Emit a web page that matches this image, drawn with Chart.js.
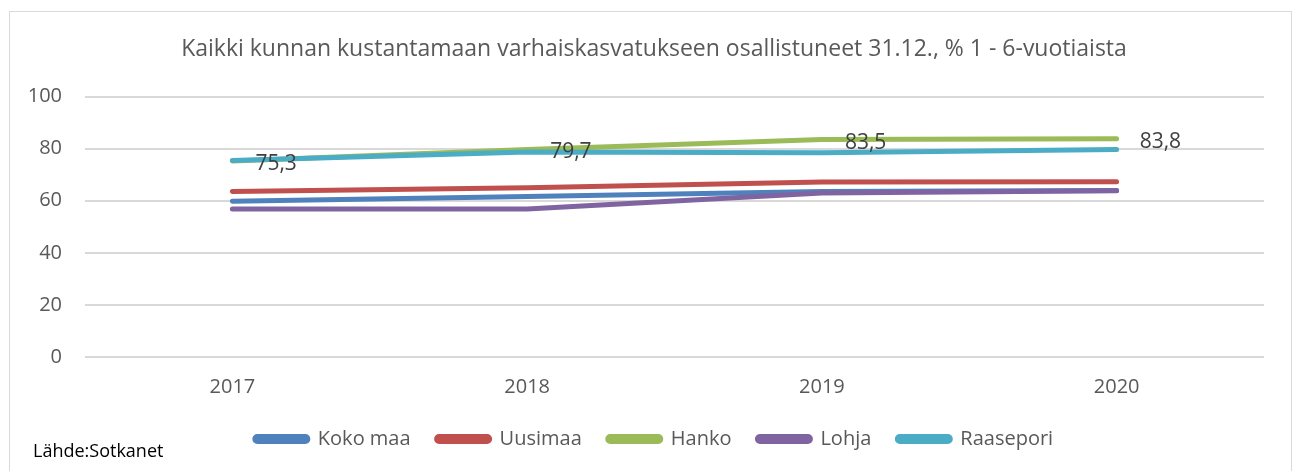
<!DOCTYPE html>
<html>
<head>
<meta charset="utf-8">
<script src="https://cdn.jsdelivr.net/npm/chart.js@4.4.0/dist/chart.umd.min.js"></script>
<style>
  html, body { margin: 0; padding: 0; background: #fff; }
  #wrap { position: absolute; left: 0; top: 0; width: 1293px; height: 471px; }
  #frame { position: absolute; left: 9px; top: 11px; width: 1283px; height: 470px; border: 1px solid #d9d9d9; box-sizing: border-box; }
  canvas { position: absolute; left: 0; top: 0; }
</style>
</head>
<body>
<div id="wrap">
  <div id="frame"></div>
  <canvas id="c" width="1293" height="471"></canvas>
</div>
<script>
const categories = ['2017', '2018', '2019', '2020'];
const seriesNames = ['Koko maa', 'Uusimaa', 'Hanko', 'Lohja', 'Raasepori'];
const kokoMaa   = [59.8, 61.6, 63.6, 63.9];
const uusimaa   = [63.6, 65.0, 67.2, 67.3];
const hanko     = [75.3, 79.7, 83.5, 83.8];
const lohja     = [56.8, 56.8, 63.0, 63.8];
const raasepori = [75.5, 78.7, 78.4, 79.7];
const yTicks = [0, 20, 40, 60, 80, 100];
const titleText = 'Kaikki kunnan kustantamaan varhaiskasvatukseen osallistuneet 31.12., % 1 - 6-vuotiaista';
const sourceText = 'Lähde:Sotkanet';
const labelledSeries = 'Hanko';

const colors = ['#4F81BD', '#C0504D', '#9BBB59', '#8064A2', '#4BACC6'];
const values = [kokoMaa, uusimaa, hanko, lohja, raasepori];
const FONT = '"Open Sans", Lato, sans-serif';

const datasets = seriesNames.map((n, i) => ({
  label: n,
  data: values[i],
  borderColor: colors[i],
  backgroundColor: colors[i],
  borderWidth: 5,
  borderCapStyle: 'round',
  borderJoinStyle: 'round',
  pointRadius: 0,
  pointHoverRadius: 0,
  tension: 0,
  fill: false,
  order: seriesNames.length - i,
  yAxisID: 'y'
}));

const valueLabels = {
  id: 'valueLabels',
  afterDatasetsDraw(chart) {
    const ctx = chart.ctx;
    const idx = seriesNames.indexOf(labelledSeries);
    const meta = chart.getDatasetMeta(idx);
    ctx.save();
    ctx.font = '21px ' + FONT;
    ctx.fillStyle = '#404040';
    ctx.textAlign = 'left';
    ctx.textBaseline = 'middle';
    meta.data.forEach((pt, j) => {
      const v = chart.data.datasets[idx].data[j];
      ctx.fillText(v.toFixed(1).replace('.', ','), pt.x + 23, pt.y + 3);
    });
    ctx.restore();
  }
};

const sourceNote = {
  id: 'sourceNote',
  afterDraw(chart) {
    const ctx = chart.ctx;
    ctx.save();
    ctx.font = '18px ' + FONT;
    ctx.fillStyle = '#000000';
    ctx.textAlign = 'left';
    ctx.textBaseline = 'middle';
    ctx.fillText(sourceText, 33, 452);
    ctx.restore();
  }
};

new Chart(document.getElementById('c'), {
  type: 'line',
  data: { labels: categories, datasets },
  plugins: [valueLabels, sourceNote],
  options: {
    responsive: false,
    animation: false,
    events: [],
    layout: { padding: { left: 20, right: 5, top: 0, bottom: 12 } },
    plugins: {
      tooltip: { enabled: false },
      title: {
        display: true,
        text: titleText,
        color: '#595959',
        font: { family: FONT, size: 23, weight: 'normal' },
        padding: { top: 36, bottom: 33 }
      },
      legend: {
        display: true,
        position: 'bottom',
        labels: {
          boxWidth: 53,
          boxHeight: 5,
          useBorderRadius: true,
          borderRadius: 2.5,
          color: '#595959',
          font: { family: FONT, size: 20 },
          padding: 26,
          sort: (a, b) => a.datasetIndex - b.datasetIndex
        }
      }
    },
    scales: {
      x: {
        offset: true,
        grid: { display: false, drawTicks: false },
        border: { display: false },
        ticks: { color: '#595959', font: { family: FONT, size: 20 }, padding: 18 },
        afterFit(scale) { scale.height = 46; }
      },
      y: {
        position: 'left',
        min: 0,
        max: 100,
        afterBuildTicks(scale) { scale.ticks = yTicks.map(v => ({ value: v })); },
        grid: { color: '#d9d9d9', lineWidth: 2, drawTicks: false },
        border: { display: false },
        ticks: { color: '#595959', font: { family: FONT, size: 20 }, padding: 23 },
        afterFit(scale) { scale.width = 65; }
      },
      yRight: {
        type: 'linear',
        position: 'right',
        min: 0,
        max: 100,
        grid: { display: false, drawTicks: false },
        border: { display: false },
        ticks: { display: false },
        afterFit(scale) { scale.width = 24; }
      }
    }
  }
});
</script>
</body>
</html>
